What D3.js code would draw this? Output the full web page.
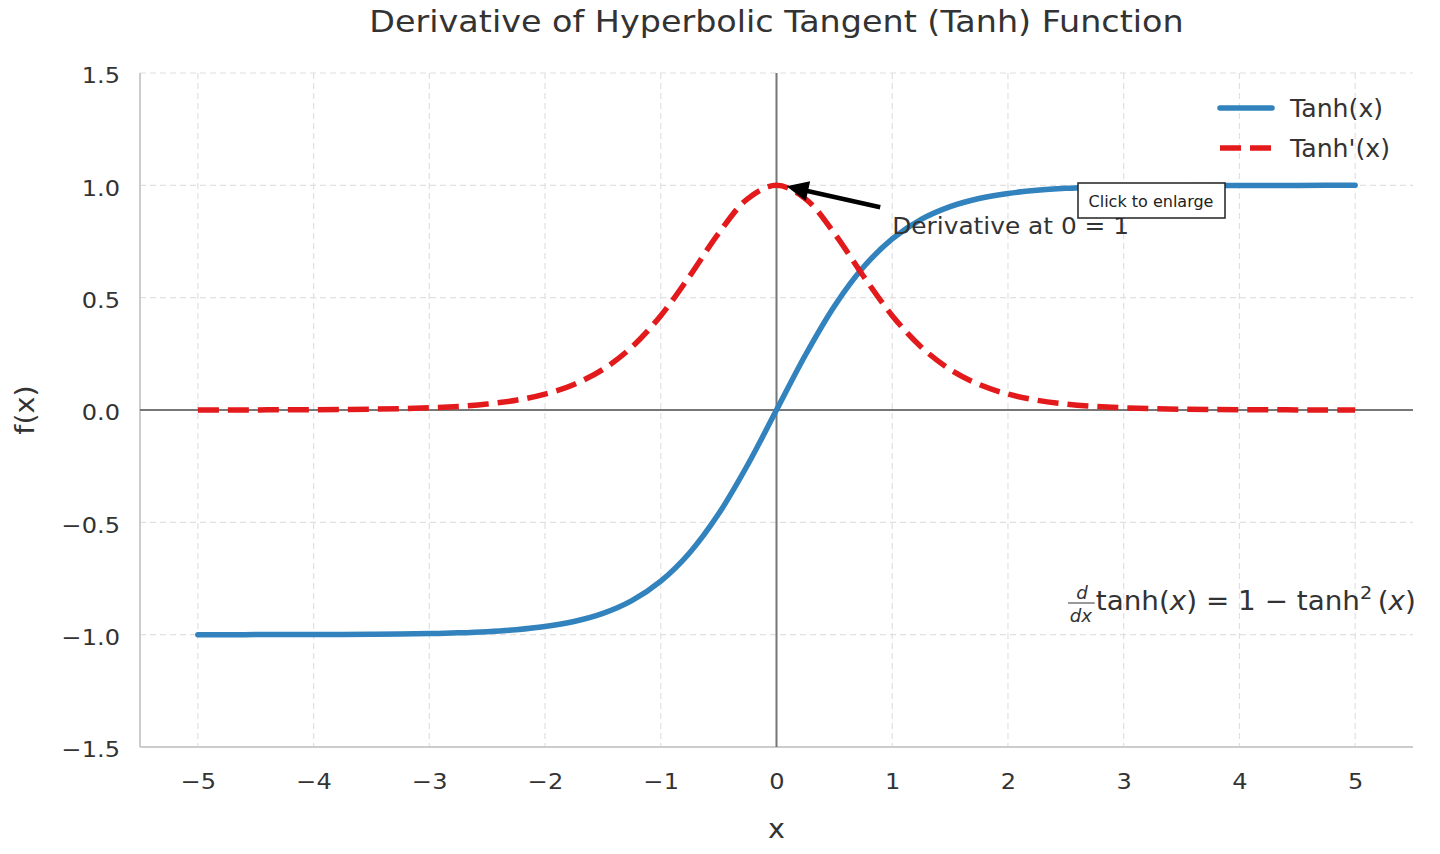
<!DOCTYPE html>
<html>
<head>
<meta charset="utf-8">
<script src="https://cdn.jsdelivr.net/npm/d3@7"></script>
<style>
  body { margin: 0; background: #fff; }
  text { font-family: "DejaVu Sans", sans-serif; fill: #333; }
  .grid line { stroke: #e0e0e0; stroke-width: 1.2; stroke-dasharray: 6,4; }
  .axis path, .axis line { display: none; }
  .axis text { font-size: 21.5px; fill: #333; }
</style>
</head>
<body>
<svg id="chart" width="1440" height="854"></svg>
<script>
// sample positions and values
var xs = [-5, -4.75, -4.5, -4.25, -4, -3.75, -3.5, -3.25, -3, -2.75, -2.5, -2.25, -2, -1.75, -1.5, -1.25, -1, -0.75, -0.5, -0.25,
          0, 0.25, 0.5, 0.75, 1, 1.25, 1.5, 1.75, 2, 2.25, 2.5, 2.75, 3, 3.25, 3.5, 3.75, 4, 4.25, 4.5, 4.75, 5]
var tanhVals = [-0.9999, -0.9999, -0.9998, -0.9996, -0.9993, -0.9989, -0.9982, -0.997, -0.9951, -0.9919, -0.9866, -0.978, -0.964, -0.9414, -0.9051, -0.8483, -0.7616, -0.6351, -0.4621, -0.2449,
          0, 0.2449, 0.4621, 0.6351, 0.7616, 0.8483, 0.9051, 0.9414, 0.964, 0.978, 0.9866, 0.9919, 0.9951, 0.997, 0.9982, 0.9989, 0.9993, 0.9996, 0.9998, 0.9999, 0.9999]
var derivVals = [0.0002, 0.0003, 0.0005, 0.0008, 0.0013, 0.0022, 0.0036, 0.006, 0.0099, 0.0161, 0.0266, 0.0435, 0.0707, 0.1138, 0.1807, 0.2804, 0.42, 0.5966, 0.7864, 0.94,
          1, 0.94, 0.7864, 0.5966, 0.42, 0.2804, 0.1807, 0.1138, 0.0707, 0.0435, 0.0266, 0.0161, 0.0099, 0.006, 0.0036, 0.0022, 0.0013, 0.0008, 0.0005, 0.0003, 0.0002]

var xTicks = [-5, -4, -3, -2, -1, 0, 1, 2, 3, 4, 5]
var yTicks = [-1.5, -1.0, -0.5, 0.0, 0.5, 1.0, 1.5]
var seriesNames = ["Tanh(x)", "Tanh'(x)"]
var seriesColors = ["#3182bd", "#e31a1c"]

var margin = { top: 73, right: 27, bottom: 107, left: 140 }
var width = 1440 - margin.left - margin.right
var height = 854 - margin.top - margin.bottom
var tickSx = 1.12  // the reference glyphs run a little wider than plain DejaVu

var svg = d3.select("#chart")
var g = svg.append("g").attr("transform", "translate(" + margin.left + "," + margin.top + ")")

var xScale = d3.scaleLinear().domain([-5.5, 5.5]).range([0, width])
var yScale = d3.scaleLinear().domain([-1.5, 1.5]).range([height, 0])

var fmt = d => d3.format(".1f")(d).replace("-", "\u2212")

// text placed at (x, y) and widened along its baseline
function label(parent, x, y, size, str, sx, anchor, rot) {
    return parent.append("text")
        .attr("transform", "translate(" + x + "," + y + ")" + (rot ? " rotate(" + rot + ")" : "") + " scale(" + sx + ",1)")
        .attr("font-size", size).attr("text-anchor", anchor || "start").text(str)
}

// grid
g.append("g").attr("class", "grid")
    .selectAll("line").data(xTicks).enter().append("line")
    .attr("x1", d => xScale(d)).attr("x2", d => xScale(d))
    .attr("y1", 0).attr("y2", height)
g.append("g").attr("class", "grid")
    .selectAll("line").data(yTicks).enter().append("line")
    .attr("x1", 0).attr("x2", width)
    .attr("y1", d => yScale(d)).attr("y2", d => yScale(d))

// axes
g.append("g").attr("class", "axis")
    .attr("transform", "translate(0," + height + ")")
    .call(d3.axisBottom(xScale).tickValues(xTicks).tickSize(0).tickPadding(27)
        .tickFormat(d => String(d).replace("-", "\u2212")))
    .selectAll("text").attr("transform", "scale(" + tickSx + ",1)")
g.append("g").attr("class", "axis")
    .call(d3.axisLeft(yScale).tickValues(yTicks).tickSize(0).tickPadding(19).tickFormat(fmt))
    .selectAll("text").attr("x", -20 / tickSx).attr("dy", "0.45em").attr("transform", "scale(" + tickSx + ",1)")

// spines (left and bottom only)
g.append("line").attr("x1", 0).attr("x2", 0).attr("y1", 0).attr("y2", height)
    .attr("stroke", "#cccccc").attr("stroke-width", 2)
g.append("line").attr("x1", 0).attr("x2", width).attr("y1", height).attr("y2", height)
    .attr("stroke", "#cccccc").attr("stroke-width", 2)

// zero lines
g.append("line").attr("x1", 0).attr("x2", width).attr("y1", yScale(0)).attr("y2", yScale(0))
    .attr("stroke", "#777").attr("stroke-width", 2)
g.append("line").attr("x1", xScale(0)).attr("x2", xScale(0)).attr("y1", 0).attr("y2", height)
    .attr("stroke", "#777").attr("stroke-width", 2)

var line = d3.line().curve(d3.curveCatmullRom)
    .x((d, i) => xScale(xs[i]))
    .y(d => yScale(d))

g.append("path").datum(tanhVals)
    .attr("d", line).attr("fill", "none")
    .attr("stroke", seriesColors[0]).attr("stroke-width", 5.5)
    .attr("stroke-linecap", "round")

g.append("path").datum(derivVals)
    .attr("d", line).attr("fill", "none")
    .attr("stroke", seriesColors[1]).attr("stroke-width", 5.5)
    .attr("stroke-dasharray", "21,9")

// annotation
var tipX = xScale(0) + 10, tipY = yScale(1) + 1
var tailX = xScale(1) - 12, tailY = yScale(0.8) - 23
var ang = Math.atan2(tipY - tailY, tipX - tailX)
var headLen = 22, headW = 10
var baseX = tipX - headLen * Math.cos(ang), baseY = tipY - headLen * Math.sin(ang)
g.append("line").attr("x1", tailX).attr("y1", tailY).attr("x2", baseX + 4 * Math.cos(ang)).attr("y2", baseY + 4 * Math.sin(ang))
    .attr("stroke", "#000").attr("stroke-width", 4.5)
g.append("path")
    .attr("d", "M" + tipX + "," + tipY +
        "L" + (baseX + headW * Math.sin(ang)) + "," + (baseY - headW * Math.cos(ang)) +
        "L" + (baseX - headW * Math.sin(ang)) + "," + (baseY + headW * Math.cos(ang)) + "Z")
    .attr("fill", "#000")
label(g, xScale(1), yScale(0.8) + 4, 23, "Derivative at 0 = 1", 1.08)

// formula
var fx = 1068, fy = 610
var ftx = g.append("g").attr("transform", "translate(" + (fx - margin.left) + "," + (fy - margin.top) + ") scale(1.07,1)")
ftx.append("text").attr("x", 13).attr("y", -11).attr("font-size", 17).attr("font-style", "italic")
    .attr("text-anchor", "middle").text("d")
ftx.append("line").attr("x1", 0).attr("x2", 25).attr("y1", -7).attr("y2", -7)
    .attr("stroke", "#333").attr("stroke-width", 1)
ftx.append("text").attr("x", 12).attr("y", 12).attr("font-size", 17).attr("font-style", "italic")
    .attr("text-anchor", "middle").text("dx")
var ft = ftx.append("text").attr("x", 26).attr("y", 0).attr("font-size", 26)
ft.append("tspan").text("tanh(")
ft.append("tspan").attr("font-style", "italic").text("x")
ft.append("tspan").text(") = 1 \u2212 tanh")
ft.append("tspan").attr("font-size", 18).attr("dy", -11).text("2")
ft.append("tspan").attr("dy", 11).text("\u2009(")
ft.append("tspan").attr("font-style", "italic").text("x")
ft.append("tspan").text(")")

// legend
var legend = g.append("g").attr("transform", "translate(" + (1220 - margin.left) + "," + (108 - margin.top) + ")")
seriesNames.forEach((name, i) => {
    var row = legend.append("g").attr("transform", "translate(0," + (i * 40) + ")")
    row.append("line").attr("x1", 0).attr("x2", 52).attr("y1", 0).attr("y2", 0)
        .attr("stroke", seriesColors[i]).attr("stroke-width", 5.5)
        .attr("stroke-dasharray", i == 1 ? "21,9" : null)
        .attr("stroke-linecap", i == 0 ? "round" : "butt")
    label(row, 70, 9, 24, name, 1.05)
})

// titles
label(svg, margin.left + width / 2, 32, 30.5, "Derivative of Hyperbolic Tangent (Tanh) Function", 1.095, "middle")
label(svg, margin.left + width / 2, 838, 26, "x", 1.1, "middle")
label(svg, 34, margin.top + height / 2, 26, "f(x)", 1.1, "middle", -90)

// viewer tooltip overlay
var tip = svg.append("g").attr("transform", "translate(1078,183)")
tip.append("rect").attr("width", 147).attr("height", 35).attr("fill", "#fff")
    .attr("stroke", "#222").attr("stroke-width", 1.5)
tip.append("text").attr("x", 73).attr("y", 24).attr("text-anchor", "middle")
    .attr("font-family", "'Open Sans', sans-serif").attr("font-size", 16).style("fill", "#222")
    .text("Click to enlarge")
</script>
</body>
</html>
